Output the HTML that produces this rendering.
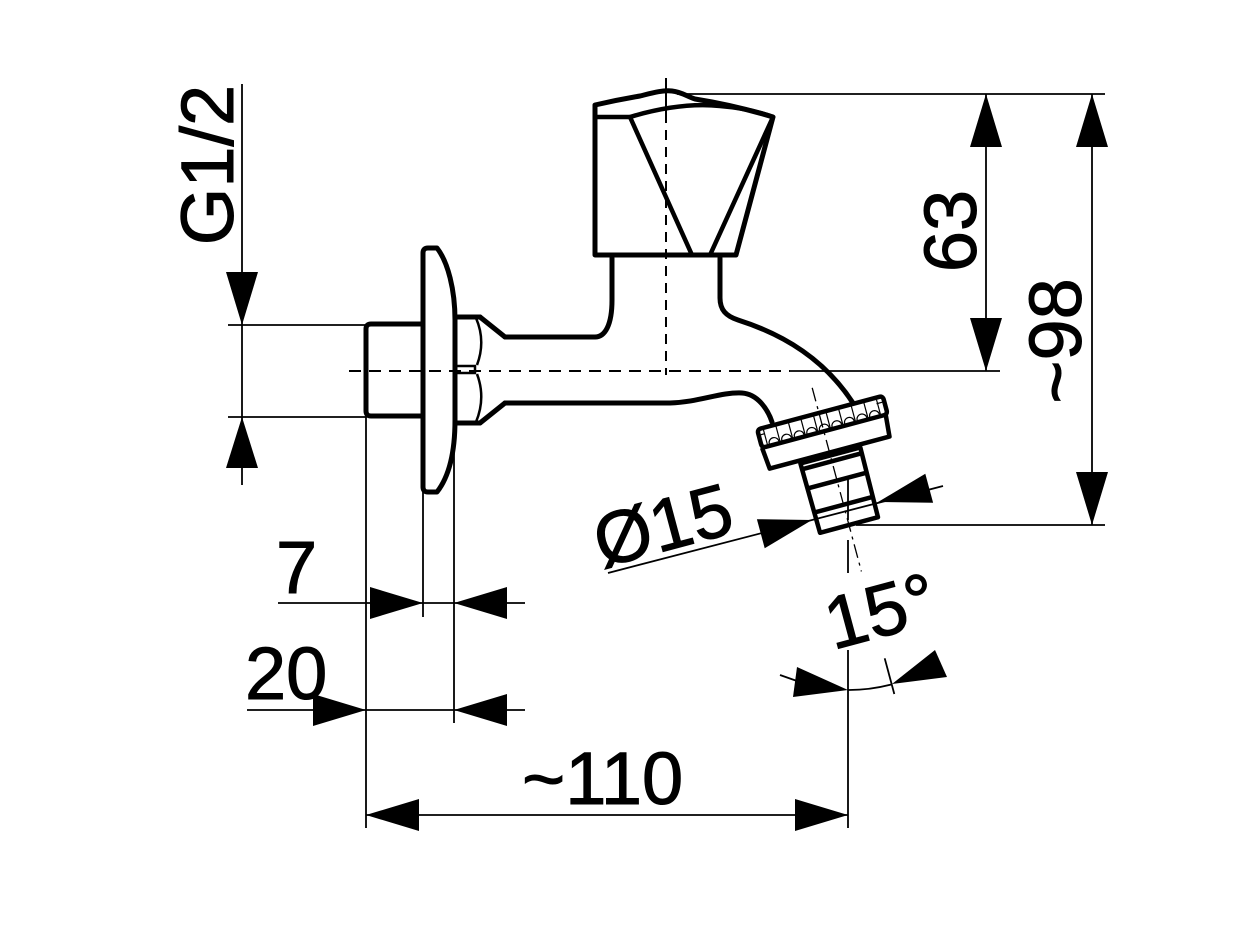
<!DOCTYPE html>
<html>
<head>
<meta charset="utf-8">
<style>
  html, body { margin: 0; padding: 0; background: #fff; }
  svg { display: block; }
  text { font-family: "Liberation Sans", Arial, sans-serif; font-size: 74px; fill: #000; stroke: #000; stroke-width: 1; }
</style>
</head>
<body>
<svg width="1257" height="941" viewBox="0 0 1257 941" xmlns="http://www.w3.org/2000/svg">
  <rect width="1257" height="941" fill="#fff"/>

  <!-- thin dimension / extension lines -->
  <g stroke="#000" stroke-width="1.8" fill="none">
    <path d="M242,84 V485"/>
    <path d="M228,325 H366 M228,417 H366"/>
    <path d="M366,417 V828"/>
    <path d="M423,492 V617"/>
    <path d="M454,423 V723"/>
    <path d="M848,650 V828 M848,540 V573 M848,478 V520"/>
    <path d="M278,603 H525"/>
    <path d="M247,710 H525"/>
    <path d="M366,815 H848"/>
    <path d="M677,94 H1105"/>
    <path d="M986,94 V371"/>
    <path d="M790,371 H1000"/>
    <path d="M1092,94 V525"/>
    <path d="M856,525 H1105"/>
    <path d="M608,573 L943,486"/>
    <path d="M848,690 A165,165 0 0 0 891.7,684.4"/>
    <path d="M780,675 L797,681"/>
    <path d="M884.7,658.3 L894.3,694"/>
  </g>

  <!-- center lines -->
  <g stroke="#000" stroke-width="2" fill="none">
    <path d="M349,371 H790" stroke-dasharray="12 8"/>
    <path d="M666,78 V113" />
    <path d="M666,113 V375" stroke-dasharray="10 7"/>
    <path d="M812.2,387.8 L861.4,571.4" stroke-width="1.3" stroke-dasharray="14 5 3 5"/>
  </g>

  <!-- object outlines -->
  <g stroke="#000" stroke-width="5" fill="none" stroke-linejoin="round" stroke-linecap="round">
    <path d="M422,324 H371 Q366,324 366,329 V411 Q366,416 371,416 H422"/>
    <path d="M437,248 H428 Q423,248 423,253 V487 Q423,492 428,492 H437 C448,478 455,455 455,420 V320 C455,290 448,262 437,248 Z"/>
    <path d="M455,317 H480 M455,423 H480 M455,317 V423"/>
    <path d="M480,317 L505,337 M480,423 L505,403"/>
    <path d="M505,337 H595 C605,337 612,325 612,300 V258"/>
    <path d="M505,403 H670 C700,402 720,392 742,393 C758,394 768,410 772,422"/>
    <path d="M720,258 V298 C720,310 726,316 738,320 C785,335 825,360 853,403"/>
    <path d="M595,255 V105 C612,101 628,98 640,96 C652,93 662,90 672,91 C682,92 688,97 695,99 C720,103 750,110 773,117 L736,255 Z"/>
    <path d="M595,117 H630 C660,108 690,103 720,106 C745,108 760,112 773,117" stroke-width="4.5"/>
    <path d="M630,117 L692,255 M773,117 L710,255" stroke-width="4.5"/>
  </g>
  <g stroke="#000" stroke-width="2.5" fill="none">
    <path d="M476,318 Q486,341 477,365 M477,374 Q486,398 476,422"/>
    <rect x="456" y="366" width="19" height="7"/>
  </g>

  <!-- nozzle ring (rotated 15deg) -->
  <g transform="translate(849,525) rotate(-15)" stroke="#000" fill="none" stroke-linejoin="round">
    <path d="M-60,-116 H62 Q66,-116 66,-112 V-101 Q66,-97 62,-97 H-60 Q-64,-97 -64,-101 V-112 Q-64,-116 -60,-116 Z" stroke-width="4.5"/>
    <path d="M-64,-97 L-62,-75 H62 L64,-97" stroke-width="4.5"/>
    <path d="M-31,-72 L-30,0 H30 L31,-72 Z" stroke-width="4.5"/>
    <path d="M-31,-66 H31 M-30.5,-46 H30.5 M-30,-21 H30" stroke-width="4.5"/>
    <g stroke-width="1.2">
      <path d="M-58,-114 V-99 M-45,-114 V-99 M-32,-114 V-99 M-19,-114 V-99 M-6,-114 V-99 M7,-114 V-99 M20,-114 V-99 M33,-114 V-99 M46,-114 V-99 M59,-114 V-99"/>
      <path d="M-56,-99 a5,5 0 0 1 10,0 M-43,-99 a5,5 0 0 1 10,0 M-30,-99 a5,5 0 0 1 10,0 M-17,-99 a5,5 0 0 1 10,0 M-4,-99 a5,5 0 0 1 10,0 M9,-99 a5,5 0 0 1 10,0 M22,-99 a5,5 0 0 1 10,0 M35,-99 a5,5 0 0 1 10,0 M48,-99 a5,5 0 0 1 10,0"/>
      <path d="M-62,-110 H-58 M58,-110 H64"/>
    </g>
  </g>

  <!-- arrowheads -->
  <g fill="#000" stroke="none">
    <polygon points="226,272 258,272 242,325"/>
    <polygon points="226,468 258,468 242,417"/>
    <polygon points="370,587 370,619 423,603"/>
    <polygon points="507,587 507,619 454,603"/>
    <polygon points="313,694 313,726 366,710"/>
    <polygon points="507,694 507,726 454,710"/>
    <polygon points="419,799 419,831 366,815"/>
    <polygon points="795,799 795,831 848,815"/>
    <polygon points="970,147 1002,147 986,94"/>
    <polygon points="970,318 1002,318 986,371"/>
    <polygon points="1076,147 1108,147 1092,94"/>
    <polygon points="1076,472 1108,472 1092,525"/>
    <polygon points="756.9,519.2 764.7,548.2 812,520"/>
    <polygon points="925.3,473.8 933.1,502.8 878,502"/>
    <polygon points="797,667 793,697 848,690"/>
    <polygon points="935,650 947,677 892,684"/>
  </g>

  <!-- labels -->
  <text transform="translate(233,165) rotate(-90)" text-anchor="middle">G1/2</text>
  <text transform="translate(976,231) rotate(-90)" text-anchor="middle">63</text>
  <text transform="translate(1081,341) rotate(-90)" text-anchor="middle">~98</text>
  <text x="276" y="593">7</text>
  <text x="245" y="699">20</text>
  <text x="522" y="804">~110</text>
  <text transform="translate(602,568) rotate(-15)">Ø15</text>
  <text transform="translate(833,650) rotate(-15)">15°</text>
</svg>
</body>
</html>
